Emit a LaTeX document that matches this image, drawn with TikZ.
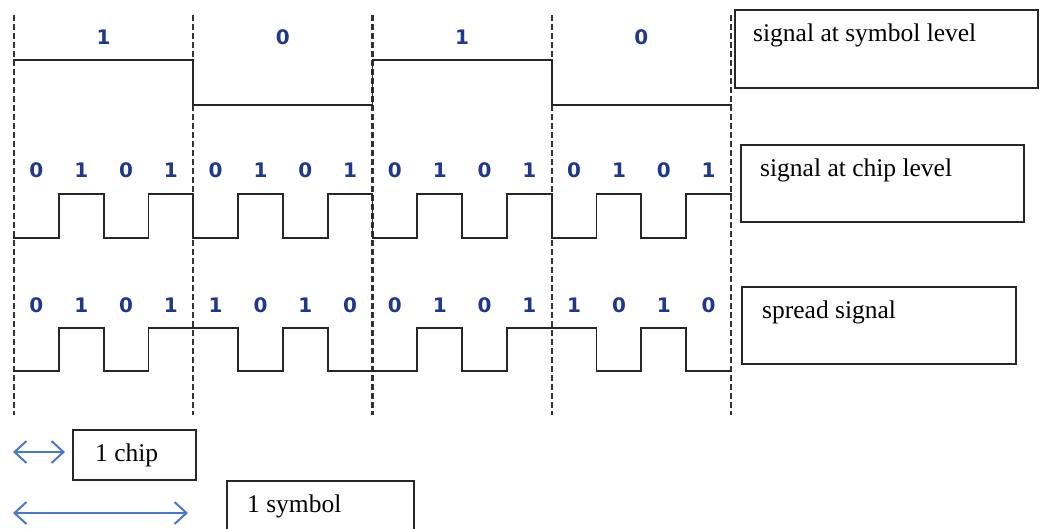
\documentclass[tikz,border=0pt]{standalone}
\usepackage{fontspec}
\setmainfont{Liberation Serif}
\newfontfamily\bitfont{DejaVu Sans}
\usetikzlibrary{arrows.meta}
\definecolor{bitblue}{RGB}{32,56,140}
\definecolor{spanblue}{RGB}{70,120,205}
\tikzset{
  wave/.style={line width=1.8pt, line cap=rect, black!85},
  bound/.style={line width=2.2pt, black!80, dash pattern=on 6pt off 3pt},
  bit/.style={font=\bitfont\bfseries\fontsize{20}{20}\selectfont, text=bitblue, inner sep=0pt},
  labelbox/.style={draw=black!85, line width=1.8pt, anchor=north west, inner sep=0pt},
  boxtext/.style={font=\fontsize{25.5}{28}\selectfont, inner sep=0pt, anchor=west},
  span/.style={<->, >={Straight Barb[length=12pt,width=22pt,line width=2pt]}, line width=2pt, spanblue}
}
\begin{document}
\begin{tikzpicture}[x=1pt, y=-1pt]
  \useasboundingbox (0,0) rectangle (1041,528);
  \def\cw{44.8125}
  % --- symbol boundaries ---
  \foreach \k in {0,...,4}
    \draw[bound] ({14+\k*4*\cw},15) -- ({14+\k*4*\cw},415);
  % --- waveforms: symbol level, chip level, spread signal ---
  \foreach \hi/\lo/\bits in {60/105/{1,1,1,1,0,0,0,0,1,1,1,1,0,0,0,0},
                             194/238/{0,1,0,1,0,1,0,1,0,1,0,1,0,1,0,1},
                             328/371/{0,1,0,1,1,0,1,0,0,1,0,1,1,0,1,0}}
    \foreach \b [count=\i from 0, remember=\b as \p (initially 0)] in \bits {
      \pgfmathsetmacro\xa{14+\i*\cw}
      \pgfmathsetmacro\yy{\b==1 ? \hi : \lo}
      \draw[wave] (\xa,\yy) -- ({\xa+\cw},\yy);
      \ifnum\i>0 \ifnum\b=\p\else
        \draw[wave] (\xa,\hi) -- (\xa,\lo);
      \fi\fi
    };
  % --- bits above the waves ---
  \foreach \b [count=\i] in {1,0,1,0}
    \node[bit] (sym\i) at ({14+(\i-0.5)*4*\cw},37) {\b};
  \foreach \b [count=\i] in {0,1,0,1,0,1,0,1,0,1,0,1,0,1,0,1}
    \node[bit] (chip\i) at ({14+(\i-0.5)*\cw},170) {\b};
  \foreach \b [count=\i] in {0,1,0,1,1,0,1,0,0,1,0,1,1,0,1,0}
    \node[bit] (spread\i) at ({14+(\i-0.5)*\cw},305) {\b};
  % --- boxes on the right ---
  \node[labelbox, minimum width=303pt, minimum height=78pt] (symbox) at (734,9) {};
  \node[boxtext] (symtext) at ([xshift=19pt, yshift=-26pt]symbox.north west) {signal at symbol level};
  \node[labelbox, minimum width=283pt, minimum height=77pt] (chipbox) at (740,144) {};
  \node[boxtext] (chiptext) at ([xshift=20pt, yshift=-26pt]chipbox.north west) {signal at chip level};
  \node[labelbox, minimum width=274pt, minimum height=77pt] (spreadbox) at (741,286) {};
  \node[boxtext] (spreadtext) at ([xshift=21pt, yshift=-26pt]spreadbox.north west) {spread signal};
  % --- durations ---
  \coordinate (chipL) at (13,452);
  \coordinate (chipR) at (65,452);
  \draw[span] (chipL) -- (chipR);
  \node[labelbox, minimum width=123pt, minimum height=50pt] (onechip) at (72,429) {};
  \node[boxtext] (onechiptext) at ([xshift=23pt]onechip.west) {1 chip};
  \coordinate (symL) at (13,513);
  \coordinate (symR) at (188,513);
  \draw[span] (symL) -- (symR);
  \node[labelbox, minimum width=187pt, minimum height=50pt] (onesym) at (226,480) {};
  \node[boxtext] (onesymtext) at ([xshift=21pt]onesym.west) {1 symbol};
\end{tikzpicture}
\end{document}
